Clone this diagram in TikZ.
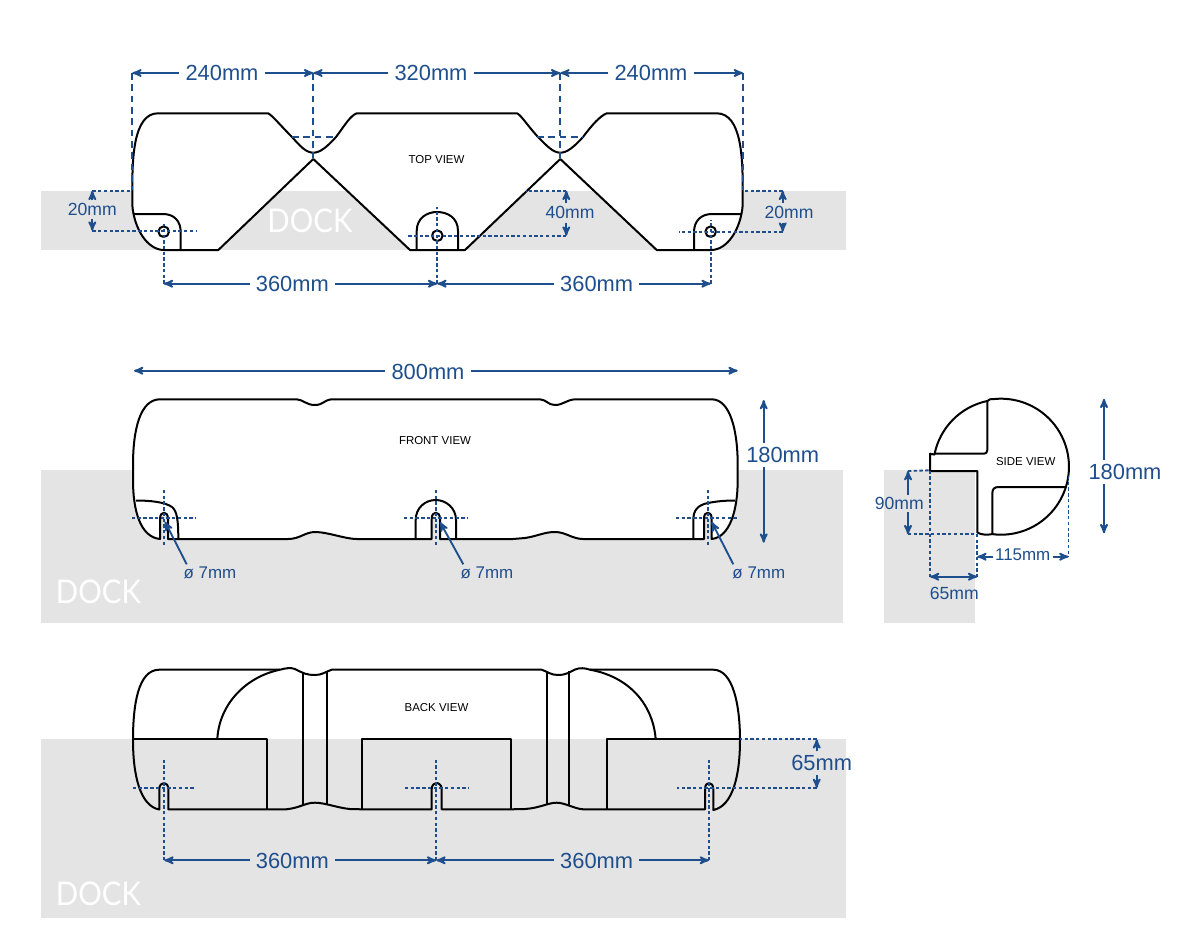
\documentclass[tikz,border=0pt]{standalone}
\usepackage{fontspec}
\setmainfont{Liberation Sans}
\newfontfamily\dockfont[FakeStretch=0.9]{Lato}
\usetikzlibrary{arrows}
\definecolor{dimblue}{HTML}{1F4E8C}
\definecolor{dockgrey}{HTML}{E4E4E4}

\begin{document}
\begin{tikzpicture}[>={stealth'[scale=1.3]},x=.75pt,y=-.75pt,
  outline/.style={black,line width=1.5pt,line join=round},
  dock/.style={fill=dockgrey},
  docklabel/.style={white,font=\dockfont\fontsize{24.5}{25}\selectfont,inner sep=0pt},
  viewlabel/.style={black,font=\fontsize{8.6}{9}\selectfont,inner sep=0pt},
  dimline/.style={dimblue,line width=1.4pt},
  longdash/.style={dimblue,line width=1.4pt,dash pattern=on 5pt off 3.5pt},
  shortdash/.style={dimblue,line width=1.4pt,dash pattern=on 2.5pt off 1.8pt},
  dimbig/.style={dimblue,font=\fontsize{16.4}{17}\selectfont,inner xsep=4.5pt,inner ysep=3pt},
  dimsmall/.style={dimblue,font=\fontsize{13.2}{14}\selectfont,inner xsep=2pt,inner ysep=2.5pt},
  dimmid/.style={dimblue,font=\fontsize{12.7}{13}\selectfont,inner xsep=2pt,inner ysep=2.5pt}]
\useasboundingbox (0,0) rectangle (1200,950);

\fill[dock] (41,190.7) rectangle (846,250);
\fill[dock] (41,470) rectangle (843,623.3);
\fill[dock] (884,470) rectangle (975,622.7);
\fill[dock] (41,739.3) rectangle (846,917.7);

\draw[outline,fill=white] (158,113.3) -- (268,113.3)
  .. controls (272,115) and (280,125) .. (292,137) .. controls (300,146) and (306,152.7) .. (313.3,152.7)
  .. controls (320,152.7) and (327,147) .. (336,137) .. controls (345,125) and (350,116) .. (356.7,113.3)
  -- (517,113.3)
  .. controls (521,115) and (527,125) .. (538,137) .. controls (547,146) and (553,152.7) .. (560.3,152.7)
  .. controls (567,152.7) and (574,147) .. (583,137) .. controls (592,125) and (600,116) .. (606.7,113.3)
  -- (716.7,113.3) .. controls (742,113.3) and (742.7,160) .. (742.7,190) -- (742.7,205)
  .. controls (741,228) and (728,250) .. (711,250)
  -- (656.7,250) -- (560.3,159) -- (465,250) -- (410,250) -- (313.3,159) -- (218.3,250) -- (164,250)
  .. controls (147,250) and (134,228) .. (132.3,205) -- (132.3,190)
  .. controls (132.3,160) and (133,113.3) .. (158,113.3) -- cycle;
\draw[outline] (134,214) -- (163,214) .. controls (174,214) and (180.7,221) .. (180.7,232) -- (180.7,250);
\draw[outline] (416.7,250) -- (416.7,231) .. controls (416.7,218) and (427,212) .. (437,212)
  .. controls (448,212) and (458,218) .. (458,231) -- (458,250);
\draw[outline] (694,250) -- (694,232) .. controls (694,221) and (701,214) .. (712,214) -- (741,214);
\draw[outline] (163.7,231.7) circle (5.3);
\draw[outline] (437.3,235.7) circle (5.3);
\draw[outline] (710.7,231.7) circle (5.3);
\node[docklabel] (docktop) at (310,221) {DOCK};
\node[viewlabel] (viewtop) at (436.5,159.5) {TOP VIEW};

\draw[outline,fill=white] (160,399.3) -- (296.7,399.3)
  .. controls (304,400) and (306,405) .. (315,405) .. controls (323,405) and (324,400) .. (331.7,399.3)
  -- (540,399.3)
  .. controls (547,400) and (548,405) .. (555,405) .. controls (563,405) and (566,400) .. (575,399.3)
  -- (711.7,399.3) .. controls (730,399.3) and (737.7,430) .. (737.7,465) -- (737.7,480)
  .. controls (737.7,510) and (730,537) .. (711.7,539) -- (711.7,519)
  .. controls (711.7,514.5) and (710,512.7) .. (707.8,512.7) .. controls (705.6,512.7) and (704,514.5) .. (704,519)
  -- (704,539) -- (583.3,539)
  .. controls (572,539) and (566,532) .. (555,532) .. controls (544,532) and (538,536) .. (525,538) -- (513,539)
  -- (440,539) -- (440,519)
  .. controls (440,514.5) and (438,512.7) .. (435.8,512.7) .. controls (433.6,512.7) and (431.7,514.5) .. (431.7,519)
  -- (431.7,539) -- (356.7,539)
  .. controls (345,539) and (328,532) .. (315,532) .. controls (305,532) and (300,539) .. (288,539)
  -- (168,539) -- (168,519)
  .. controls (168,514.5) and (166,512.7) .. (164,512.7) .. controls (162,512.7) and (160,514.5) .. (160,519)
  -- (160,539) .. controls (140,537) and (133,510) .. (133,480) -- (133,465)
  .. controls (133,430) and (140,399.3) .. (160,399.3) -- cycle;
\draw[outline] (136,500.5) .. controls (150,500.5) and (165,502) .. (172,507) .. controls (177,511) and (178.3,520) .. (178.3,539);
\draw[outline] (415.7,539) -- (415.7,520) .. controls (415.7,508) and (425,500) .. (435.7,500)
  .. controls (446,500) and (456,508) .. (456,520) -- (456,539);
\draw[outline] (693.3,539) -- (693.3,520) .. controls (693.3,510) and (698,505) .. (708,503) .. controls (718,501) and (727,500.5) .. (735,500.5);
\node[docklabel] (dockfront) at (98.5,592) {DOCK};
\node[viewlabel] (viewfront) at (435,441) {FRONT VIEW};

\draw[outline,fill=white] (930,453.7) -- (930,471) -- (977.3,471) -- (977.3,532.5)
  .. controls (981,535) and (988,535) .. (992.1,534.1)
  arc[start angle=97.5,end angle=-96.7,radius=68]
  .. controls (991,398.5) and (989,399.5) .. (987.3,401)
  arc[start angle=-101.8,end angle=-169,radius=68] -- cycle;
\draw[outline] (987.3,401) -- (987.3,450) .. controls (987.3,452.5) and (986,453.7) .. (984,453.7) -- (934,453.7);
\draw[outline] (992.3,533) -- (992.3,494) .. controls (992.3,489) and (994,487) .. (999,487) -- (1066,487);
\node[viewlabel] (viewside) at (1025.7,461.7) {SIDE VIEW};

\draw[outline] (159.3,809.5) .. controls (140,806) and (133,775) .. (133,740)
  .. controls (133,705) and (138,669.7) .. (159.3,669.7) -- (280,669.7)
  .. controls (286,668) and (291,667.5) .. (295,669) .. controls (303,673) and (306,675) .. (315,675)
  .. controls (322,675) and (325,672) .. (331.7,669.7) -- (541.7,669.7)
  .. controls (548,672) and (551,675) .. (558,675) .. controls (566,675) and (570,672) .. (575,669.5)
  .. controls (580,667.5) and (585,668) .. (590,669.7) -- (713.3,669.7)
  .. controls (733,669.7) and (740,705) .. (740,740) .. controls (740,775) and (733,806) .. (713.3,810)
  -- (713.3,789) .. controls (713.3,785) and (711,783) .. (709,783) .. controls (707,783) and (705,785) .. (705,789)
  -- (705,809.3) -- (583.3,809.3)
  .. controls (575,809) and (565,802.7) .. (556.7,802.7) .. controls (548,802.7) and (540,808) .. (525,809) -- (511.3,809.3)
  -- (441.7,809.3) -- (441.7,789) .. controls (441.7,785) and (438.5,783) .. (436.5,783) .. controls (434.5,783) and (431.7,785) .. (431.7,789)
  -- (431.7,809.3) -- (361.7,809.3) -- (350,809)
  .. controls (338,808) and (325,802.7) .. (315,802.7) .. controls (305,802.7) and (300,808) .. (286,809.3)
  -- (168.3,809.3) -- (168.3,789) .. controls (168.3,785) and (166,783) .. (164,783) .. controls (162,783) and (159.3,785) .. (159.3,789)
  -- cycle;
\draw[outline] (133,739.3) -- (266.7,739.3) -- (266.7,809.3);
\draw[outline] (361.7,809.3) -- (361.7,739.3) -- (511.3,739.3) -- (511.3,809.3);
\draw[outline] (606.7,809.3) -- (606.7,739.3) -- (740,739.3);
\draw[outline] (303.3,673) -- (303.3,805);
\draw[outline] (326.7,671) -- (326.7,805);
\draw[outline] (546.7,672) -- (546.7,805);
\draw[outline] (569.3,671) -- (569.3,805);
\draw[outline] (217.3,739.3) .. controls (219,705) and (245,677) .. (280,669.7);
\draw[outline] (655.7,739.3) .. controls (653,705) and (630,677) .. (590,669.7);
\node[docklabel] (dockback) at (98.5,894) {DOCK};
\node[viewlabel] (viewback) at (436.5,708) {BACK VIEW};

\coordinate (topa) at (132.3,73);
\coordinate (topb) at (313.3,73);
\coordinate (topc) at (560.3,73);
\coordinate (topd) at (743,73);
\coordinate (holea) at (163.7,283.7);
\coordinate (holeb) at (437.3,283.7);
\coordinate (holec) at (710.7,283.7);
\node[dimbig] (lenleft) at (222,73) {240mm};
\node[dimbig] (lenmid) at (431,73) {320mm};
\node[dimbig] (lenright) at (651,73) {240mm};
\node[dimbig] (spanleft) at (292.3,284) {360mm};
\node[dimbig] (spanright) at (596.7,284) {360mm};
\draw[dimline,->] (lenleft) -- (topa);
\draw[dimline,->] (lenleft) -- (topb);
\draw[dimline,->] (lenmid) -- (topb);
\draw[dimline,->] (lenmid) -- (topc);
\draw[dimline,->] (lenright) -- (topc);
\draw[dimline,->] (lenright) -- (topd);
\draw[dimline,->] (spanleft.west |- holea) -- (holea);
\draw[dimline,->] (spanleft.east |- holeb) -- (holeb);
\draw[dimline,->] (spanright.west |- holeb) -- (holeb);
\draw[dimline,->] (spanright.east |- holec) -- (holec);
\draw[longdash] (topa) -- (132.3,190);
\draw[longdash] (topb) -- (313.3,158);
\draw[longdash] (topc) -- (560.3,158);
\draw[longdash] (topd) -- (743,190);
\draw[longdash] (292,136.7) -- (336.7,136.7);
\draw[longdash] (537,136.7) -- (583,136.7);
\draw[shortdash] (holea) -- (163.7,224);
\draw[shortdash] (holeb) -- (437.3,207);
\draw[shortdash] (holec) -- (710.7,220);

\coordinate (lefttop) at (92.3,190.7);
\coordinate (leftbot) at (92.3,230.7);
\coordinate (midtop) at (566.3,190.7);
\coordinate (midbot) at (566.3,235.7);
\coordinate (righttop) at (782.7,190.7);
\coordinate (rightbot) at (782.7,231.7);
\node[dimsmall] (twentyleft) at (92.3,209.5) {20mm};
\node[dimsmall] (fortymid) at (570,212.7) {40mm};
\node[dimsmall] (twentyright) at (789,212.7) {20mm};
\draw[dimline,->] (twentyleft.north -| lefttop) -- (lefttop);
\draw[dimline,->] (twentyleft.south -| leftbot) -- (leftbot);
\draw[dimline,->] (fortymid.north -| midtop) -- (midtop);
\draw[dimline,->] (fortymid.south -| midbot) -- (midbot);
\draw[dimline,->] (twentyright.north -| righttop) -- (righttop);
\draw[dimline,->] (twentyright.south -| rightbot) -- (rightbot);
\draw[shortdash] (lefttop) -- (132,190.7);
\draw[shortdash] (leftbot) -- (196,230.7);
\draw[shortdash] (midtop) -- (526,190.7);
\draw[shortdash] (midbot) -- (406,235.7);
\draw[shortdash] (righttop) -- (743,190.7);
\draw[shortdash] (rightbot) -- (679,231.7);

\coordinate (widea) at (134,370.7);
\coordinate (wideb) at (737.7,370.7);
\coordinate (tallup) at (763.7,400);
\coordinate (talldown) at (763.7,542.7);
\node[dimbig] (widefront) at (428,371.7) {800mm};
\node[dimbig] (tallfront) at (782.7,455) {180mm};
\draw[dimline,->] (widefront.west |- widea) -- (widea);
\draw[dimline,->] (widefront.east |- wideb) -- (wideb);
\draw[dimline,->] (tallfront.north -| tallup) -- (tallup);
\draw[dimline,->] (tallfront.south -| talldown) -- (talldown);
\draw[shortdash] (132,518.3) -- (195.7,518.3);
\draw[shortdash] (163.7,490) -- (163.7,547);
\draw[shortdash] (404,518.3) -- (467.3,518.3);
\draw[shortdash] (435.7,490) -- (435.7,547);
\draw[shortdash] (676,518.3) -- (738,518.3);
\draw[shortdash] (707.8,490) -- (707.8,547);
\coordinate (borea) at (165,521.7);
\coordinate (boreb) at (440,522);
\coordinate (borec) at (711.7,522);
\node[dimmid] (holeleft) at (210,573.3) {ø 7mm};
\node[dimmid] (holemid) at (487,573.3) {ø 7mm};
\node[dimmid] (holeright) at (758.8,573.3) {ø 7mm};
\draw[dimline,->] (186.7,564.3) -- (borea);
\draw[dimline,->] (463.3,564.3) -- (boreb);
\draw[dimline,->] (733.3,564.3) -- (borec);

\coordinate (sideup) at (1104,398.7);
\coordinate (sidedown) at (1104,533.3);
\coordinate (waista) at (908,471);
\coordinate (waistb) at (908,534.3);
\coordinate (backa) at (930,576.7);
\coordinate (backb) at (977.3,576.7);
\coordinate (reacha) at (977.3,556.7);
\coordinate (reachb) at (1068.5,556.7);
\node[dimbig] (tallside) at (1125,472) {180mm};
\node[dimsmall,inner ysep=1.5pt] (waistside) at (899.3,503.3) {90mm};
\node[dimsmall] (backside) at (954.3,593.3) {65mm};
\node[dimmid,inner xsep=1.5pt] (reachside) at (1022.7,555) {115mm};
\draw[dimline,->] (tallside.north -| sideup) -- (sideup);
\draw[dimline,->] (tallside.south -| sidedown) -- (sidedown);
\draw[dimline,->] (waistside.north -| waista) -- (waista);
\draw[dimline,->] (waistside.south -| waistb) -- (waistb);
\draw[dimline,<->] (backa) -- (backb);
\draw[dimline,->] (reachside.west |- reacha) -- (reacha);
\draw[dimline,->] (reachside.east |- reachb) -- (reachb);
\draw[shortdash] (930,470.5) -- (backa);
\draw[shortdash] (977.3,534) -- (backb);
\draw[shortdash] (waista) -- (930,470.3);
\draw[shortdash] (waistb) -- (977,534.3);
\draw[shortdash] (1068.5,476) -- (reachb);

\coordinate (rearup) at (816.7,739.3);
\coordinate (reardown) at (816.7,788);
\coordinate (bolta) at (164.3,860.3);
\coordinate (boltb) at (436.3,860.3);
\coordinate (boltc) at (709,860.3);
\node[dimbig] (rearrise) at (821.7,763.3) {65mm};
\node[dimbig] (rearleft) at (292.3,861) {360mm};
\node[dimbig] (rearright) at (596.7,861) {360mm};
\draw[dimline,->] (rearrise.north -| rearup) -- (rearup);
\draw[dimline,->] (rearrise.south -| reardown) -- (reardown);
\draw[dimline,->] (rearleft.west |- bolta) -- (bolta);
\draw[dimline,->] (rearleft.east |- boltb) -- (boltb);
\draw[dimline,->] (rearright.west |- boltb) -- (boltb);
\draw[dimline,->] (rearright.east |- boltc) -- (boltc);
\draw[shortdash] (rearup) -- (740,739.3);
\draw[shortdash] (reardown) -- (677,788);
\draw[shortdash] (133,788) -- (196,788);
\draw[shortdash] (405,788) -- (468.3,788);
\draw[shortdash] (bolta) -- (164.3,760);
\draw[shortdash] (boltb) -- (436.3,760);
\draw[shortdash] (boltc) -- (709,760);

\end{tikzpicture}
\end{document}
